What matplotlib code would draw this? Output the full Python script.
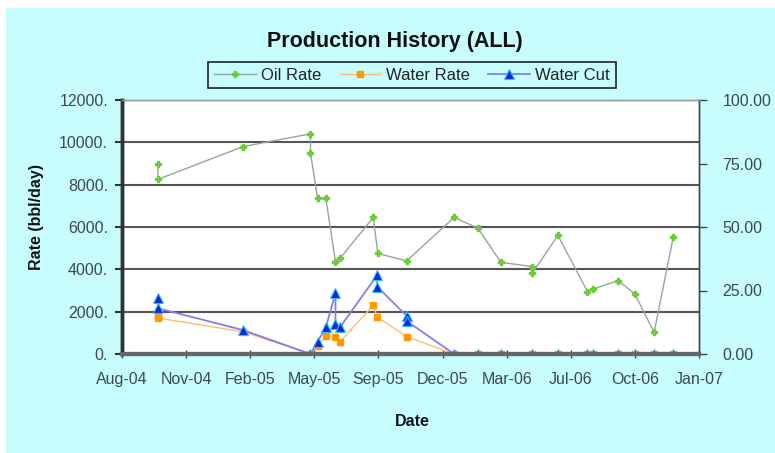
import matplotlib
matplotlib.use("Agg")
import matplotlib.pyplot as plt
import matplotlib.dates as mdates
from matplotlib.patches import Rectangle
from matplotlib.ticker import FixedLocator, FuncFormatter
import pandas as pd

plt.rcParams['font.family'] = ['Liberation Sans', 'DejaVu Sans']

# production test records
oil_dates = ['2004-09-26', '2004-09-26', '2005-02-06', '2005-05-22', '2005-05-22',
             '2005-06-02', '2005-06-15', '2005-06-30', '2005-07-07', '2005-08-28',
             '2005-09-04', '2005-10-19', '2006-01-01', '2006-02-07', '2006-03-15',
             '2006-05-03', '2006-05-03', '2006-06-12', '2006-07-28', '2006-08-06',
             '2006-09-14', '2006-10-10', '2006-11-09', '2006-12-09']
oil_rate = [9000, 8250, 9800, 10400, 9500,
            7350, 7350, 4350, 4520, 6450,
            4750, 4400, 6450, 5950, 4330,
            4130, 3820, 5600, 2950, 3070,
            3470, 2830, 1020, 5550]

water_dates = ['2004-09-26', '2004-09-26', '2005-02-06', '2005-05-22', '2005-06-02',
               '2005-06-15', '2005-06-30', '2005-07-07', '2005-08-28', '2005-09-03',
               '2005-10-19', '2006-01-01', '2006-02-07', '2006-03-15', '2006-05-03',
               '2006-06-12', '2006-07-28', '2006-08-06', '2006-09-14', '2006-10-10',
               '2006-11-09', '2006-12-09']
water_rate = [1800, 1700, 1050, 0, 400,
              850, 820, 580, 2300, 1750,
              820, 0, 0, 0, 0,
              0, 0, 0, 0, 0,
              0, 0]

cut_dates = ['2004-09-26', '2004-09-26', '2005-02-06', '2005-05-22', '2005-06-02',
             '2005-06-15', '2005-06-30', '2005-06-30', '2005-07-07', '2005-09-03',
             '2005-09-03', '2005-10-19', '2005-10-19', '2006-01-01', '2006-02-07',
             '2006-03-15', '2006-05-03', '2006-06-12', '2006-07-28', '2006-08-06',
             '2006-09-14', '2006-10-10', '2006-11-09', '2006-12-09']
water_cut = [22, 18, 9.4, 0, 4.8,
             10.5, 24, 12, 10.5, 31,
             26.5, 15, 13, 0, 0,
             0, 0, 0, 0, 0,
             0, 0, 0, 0]

# date axis: 100-day steps starting 1 Aug 2004
x_start = pd.Timestamp('2004-08-01')
x_ticks = [x_start + pd.Timedelta(days=100 * i) for i in range(10)]

rate_ticks = [0, 2000, 4000, 6000, 8000, 10000, 12000]
cut_ticks = [0, 25, 50, 75, 100]

bg = '#c8fdfd'
W, H = 775, 453

fig = plt.figure(figsize=(W / 100, H / 100), dpi=100, facecolor='white')
fig.patches.append(Rectangle((6 / W, 0), 1, (H - 8) / H, transform=fig.transFigure,
                             facecolor=bg, edgecolor='none', zorder=-10))

ax = fig.add_axes([122 / W, 1 - 354 / H, (699 - 122) / W, (354 - 100) / H])
ax.set_facecolor('white')
ax2 = ax.twinx()

od = pd.to_datetime(oil_dates)
wd = pd.to_datetime(water_dates)
cd = pd.to_datetime(cut_dates)

l1, = ax.plot(od, oil_rate, color='#94a894', lw=1.0, marker='P', ms=5,
              mfc='#6ccc3c', mec='#6ccc3c', label='Oil Rate')
l2, = ax.plot(wd, water_rate, color='#ffbb77', lw=1.0, marker='s', ms=4,
              mfc='#ff9900', mec='#ff9900', label='Water Rate')
l3, = ax2.plot(cd, water_cut, color='#8080e8', lw=1.3, marker='^', ms=7,
               mfc='#0a2bd0', mec='#33bbff', mew=0.8, label='Water Cut')

ax.set_xlim(x_ticks[0], x_ticks[-1])
ax.set_ylim(0, 12000)
ax2.set_ylim(0, 100)

ax.xaxis.set_major_locator(FixedLocator(mdates.date2num(x_ticks)))
ax.xaxis.set_major_formatter(mdates.DateFormatter('%b-%y'))
ax.yaxis.set_major_locator(FixedLocator(rate_ticks))
ax.yaxis.set_major_formatter(FuncFormatter(lambda v, p: '%d.' % v))
ax2.yaxis.set_major_locator(FixedLocator(cut_ticks))
ax2.yaxis.set_major_formatter(FuncFormatter(lambda v, p: '%.2f' % v))

ax.grid(axis='y', color='#555555', lw=1.5)
ax.set_axisbelow(True)

tick_col = '#3a4a4a'
ax.tick_params(axis='x', direction='inout', length=6, width=1, color='#444444',
               labelsize=11.5, labelcolor=tick_col, pad=10)
ax.tick_params(axis='y', direction='out', length=5, width=1.5, color='#333333',
               labelsize=11.5, labelcolor=tick_col, pad=5)
ax2.tick_params(axis='y', direction='out', length=6, width=1, color='#444444',
                labelsize=11.5, labelcolor=tick_col, pad=11)

for a in (ax, ax2):
    a.spines['left'].set_color('#333333')
    a.spines['left'].set_linewidth(2.5)
    a.spines['bottom'].set_color('#666666')
    a.spines['bottom'].set_linewidth(3)
    a.spines['top'].set_color('#999999')
    a.spines['top'].set_linewidth(1)
    a.spines['right'].set_color('#444444')
    a.spines['right'].set_linewidth(1)

fig.text(395 / W, 1 - 41 / H, 'Production History (ALL)', ha='center', va='center',
         fontsize=15.5, fontweight='bold', color='#111111')
fig.text(36 / W, 1 - 217 / H, 'Rate (bbl/day)', ha='center', va='center',
         rotation=90, fontsize=11.5, fontweight='bold', color='#111111')
fig.text(412 / W, 1 - 421 / H, 'Date', ha='center', va='center',
         fontsize=11.5, fontweight='bold', color='#111111')

leg = fig.legend(handles=[l1, l2, l3], loc='center', ncol=3,
                 bbox_to_anchor=(412 / W, 1 - 75 / H), fontsize=12,
                 frameon=True, fancybox=False, facecolor=bg, edgecolor='#222222',
                 framealpha=1, handlelength=2.5, columnspacing=1.1,
                 handletextpad=0.3, borderpad=0.35)
leg.get_frame().set_linewidth(1.2)
for t in leg.get_texts():
    t.set_color('#222222')

fig.savefig('out.png', dpi=100, facecolor=fig.get_facecolor())
